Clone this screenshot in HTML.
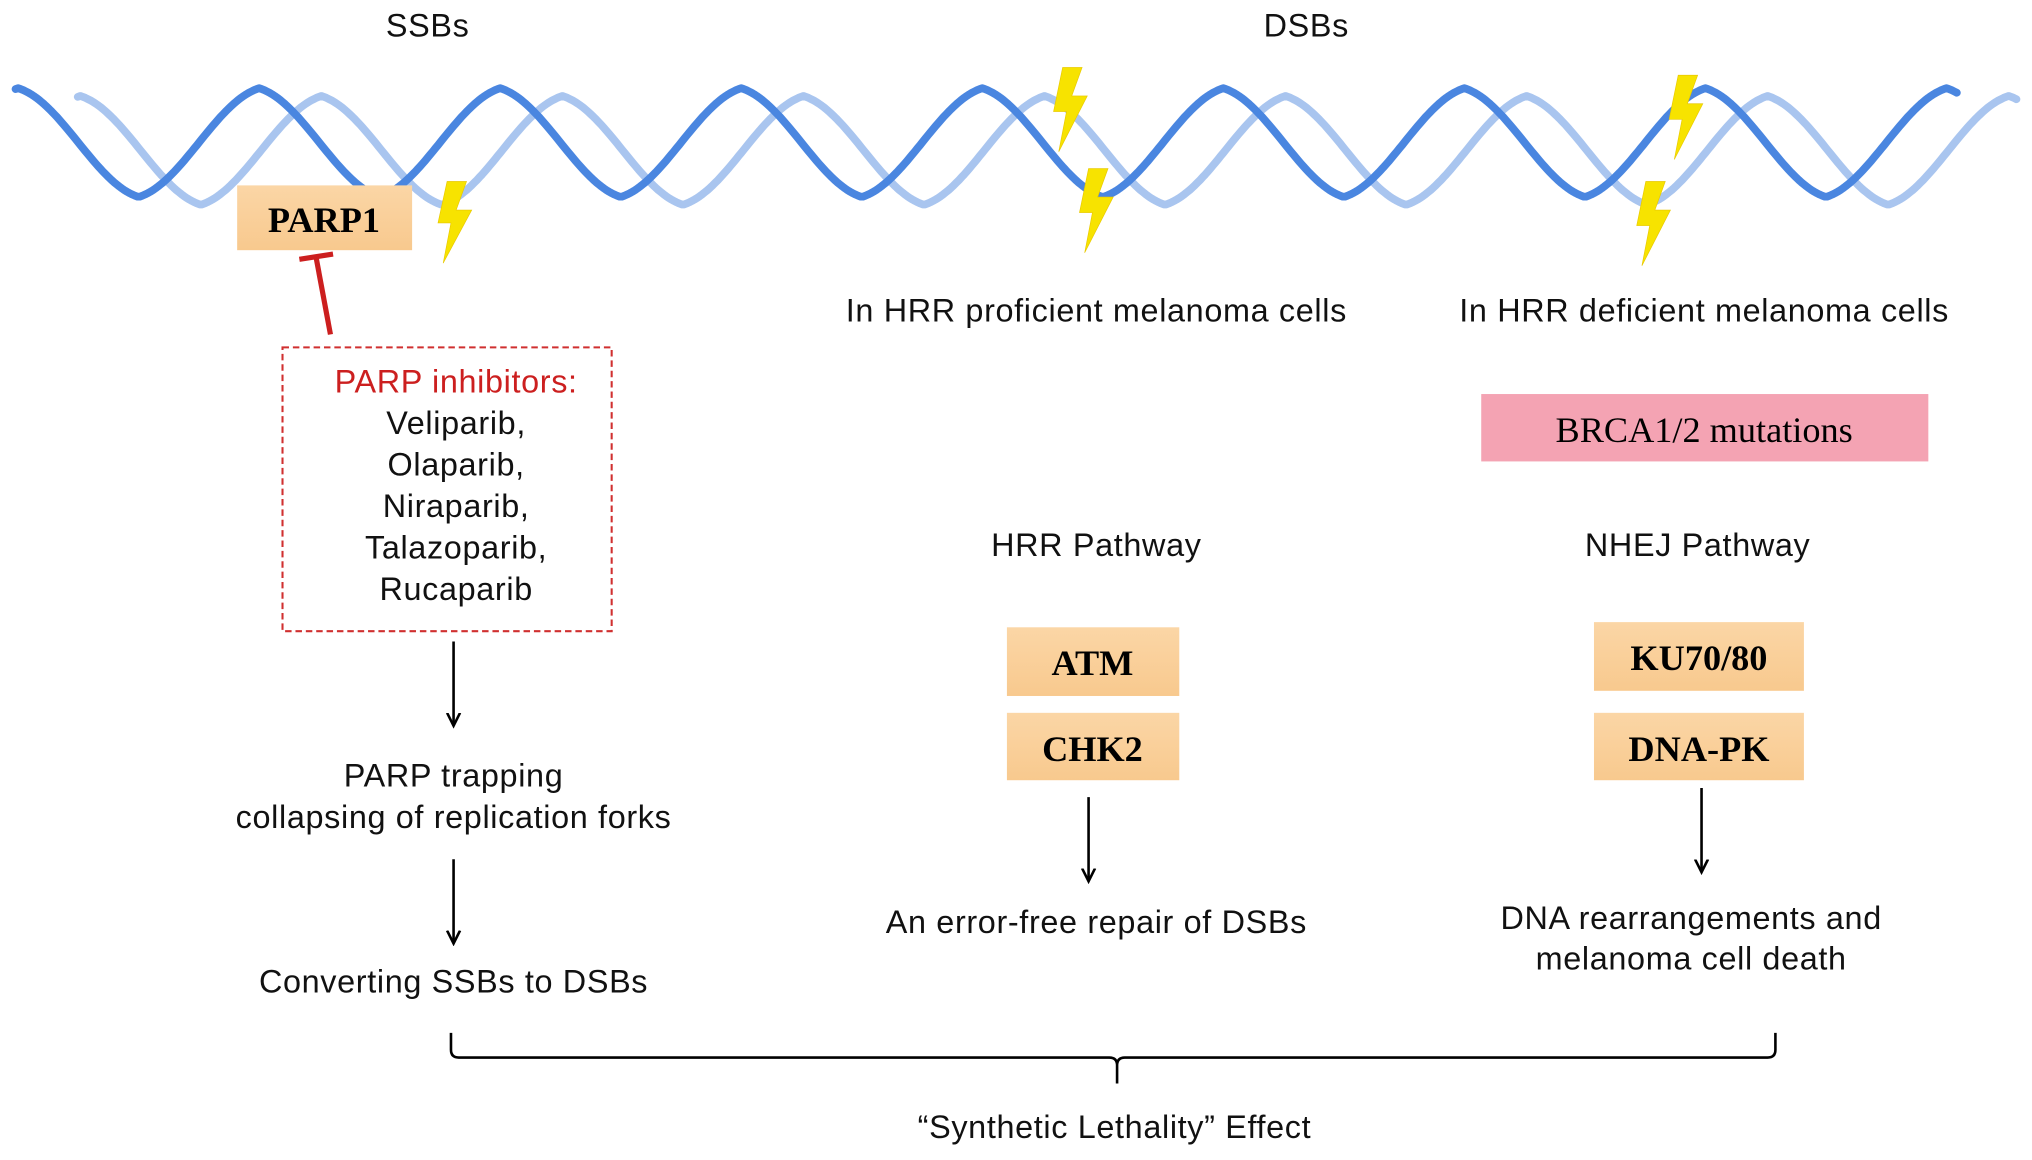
<!DOCTYPE html>
<html><head><meta charset="utf-8"><style>html,body{margin:0;padding:0;background:#fff}svg{display:block}</style></head><body>
<svg xmlns="http://www.w3.org/2000/svg" width="2032" height="1160" viewBox="0 0 1568 895">
<defs>
<linearGradient id="og" x1="0" y1="0" x2="0" y2="1"><stop offset="0" stop-color="#fbd6a6"/><stop offset="1" stop-color="#f8c98e"/></linearGradient>
<marker id="ar" markerWidth="12" markerHeight="12" refX="10" refY="6" orient="auto" markerUnits="userSpaceOnUse"><path d="M0,1 L10,6 L0,11" fill="none" stroke="#000" stroke-width="2"/></marker>
</defs>
<g id="helix" fill="none" stroke-linecap="round"></g>
<g font-family="Liberation Sans, sans-serif" font-size="25" letter-spacing="0.5" text-anchor="middle" fill="#111">
<text x="330" y="28">SSBs</text>
<text x="1008" y="28">DSBs</text>
</g>
<g fill="#f7e300" stroke="#e8c800" stroke-width="0.5">
<polygon points="345,140 360,140 352,162 364,162 342,203 348,172 338,172"/>
<polygon points="820,52 835,52 827,74 839,74 817,117 823,86 813,86"/>
<polygon points="840,130 855,130 847,152 859,152 837,195 843,164 833,164"/>
<polygon points="1295,58 1310,58 1302,80 1314,80 1292,123 1298,92 1288,92"/>
<polygon points="1270,140 1285,140 1277,162 1289,162 1267,205 1273,174 1263,174"/>
</g>
<rect x="183" y="143" width="135" height="50" fill="url(#og)"/>
<text x="250" y="179" font-family="Liberation Serif, serif" font-weight="bold" font-size="28" text-anchor="middle">PARP1</text>
<line x1="255" y1="258" x2="244" y2="199" stroke="#cc1f1f" stroke-width="4"/>
<line x1="231" y1="200" x2="257" y2="196" stroke="#cc1f1f" stroke-width="4"/>
<rect x="218" y="268" width="254" height="219" fill="none" stroke="#d03030" stroke-width="1.6" stroke-dasharray="5,3"/>
<g font-family="Liberation Sans, sans-serif" font-size="25" letter-spacing="0.5" text-anchor="middle" fill="#111">
<text x="352" y="303" fill="#cc1f1f">PARP inhibitors:</text>
<text x="352" y="335">Veliparib,</text>
<text x="352" y="367">Olaparib,</text>
<text x="352" y="399">Niraparib,</text>
<text x="352" y="431">Talazoparib,</text>
<text x="352" y="463">Rucaparib</text>
<text x="350" y="607">PARP trapping</text>
<text x="350" y="639">collapsing of replication forks</text>
<text x="350" y="766">Converting SSBs to DSBs</text>
<text x="846" y="248">In HRR proficient melanoma cells</text>
<text x="1315" y="248">In HRR deficient melanoma cells</text>
<text x="846" y="429">HRR Pathway</text>
<text x="1310" y="429">NHEJ Pathway</text>
<text x="846" y="720">An error-free repair of DSBs</text>
<text x="1305" y="717">DNA rearrangements and</text>
<text x="1305" y="748">melanoma cell death</text>
<text x="860" y="878">“Synthetic Lethality” Effect</text>
</g>
<g stroke="#000" stroke-width="2" fill="none">
<line x1="350" y1="495" x2="350" y2="560" marker-end="url(#ar)"/>
<line x1="350" y1="663" x2="350" y2="728" marker-end="url(#ar)"/>
<line x1="840" y1="615" x2="840" y2="680" marker-end="url(#ar)"/>
<line x1="1313" y1="608" x2="1313" y2="673" marker-end="url(#ar)"/>
<path d="M348,797 L348,810 Q348,816 354,816 L856,816 Q862,816 862,822 L862,836 M862,822 Q862,816 868,816 L1364,816 Q1370,816 1370,810 L1370,797"/>
</g>
<rect x="1143" y="304" width="345" height="52" fill="#f4a3b3"/>
<text x="1315" y="341" font-family="Liberation Serif, serif" font-size="28" text-anchor="middle">BRCA1/2 mutations</text>
<g font-family="Liberation Serif, serif" font-weight="bold" font-size="28" text-anchor="middle">
<rect x="777" y="484" width="133" height="53" fill="url(#og)"/>
<text x="843" y="521">ATM</text>
<rect x="777" y="550" width="133" height="52" fill="url(#og)"/>
<text x="843" y="587">CHK2</text>
<rect x="1230" y="480" width="162" height="53" fill="url(#og)"/>
<text x="1311" y="517">KU70/80</text>
<rect x="1230" y="550" width="162" height="52" fill="url(#og)"/>
<text x="1311" y="587">DNA-PK</text>
</g>
<script>
(function(){
 var g=document.getElementById('helix');
 function path(x0,x1,c,mid,col){var d='';for(var x=x0;x<=x1;x+=2){var t=Math.cos(2*Math.PI*(x-c)/186);var tri=2/Math.PI*Math.asin(t);var s=0.35*tri+0.65*t;var y=mid-42*s;d+=(x==x0?'M':'L')+x+','+y.toFixed(1)+' ';}
 var p=document.createElementNS('http://www.w3.org/2000/svg','path');p.setAttribute('d',d);p.setAttribute('stroke',col);p.setAttribute('stroke-width','6');p.setAttribute('stroke-linejoin','round');g.appendChild(p);}
 path(60,1556,248,116,'#a9c5ef');
 path(12,1510,200,110,'#4a86e0');
})();
</script>
</svg>
</body></html>
